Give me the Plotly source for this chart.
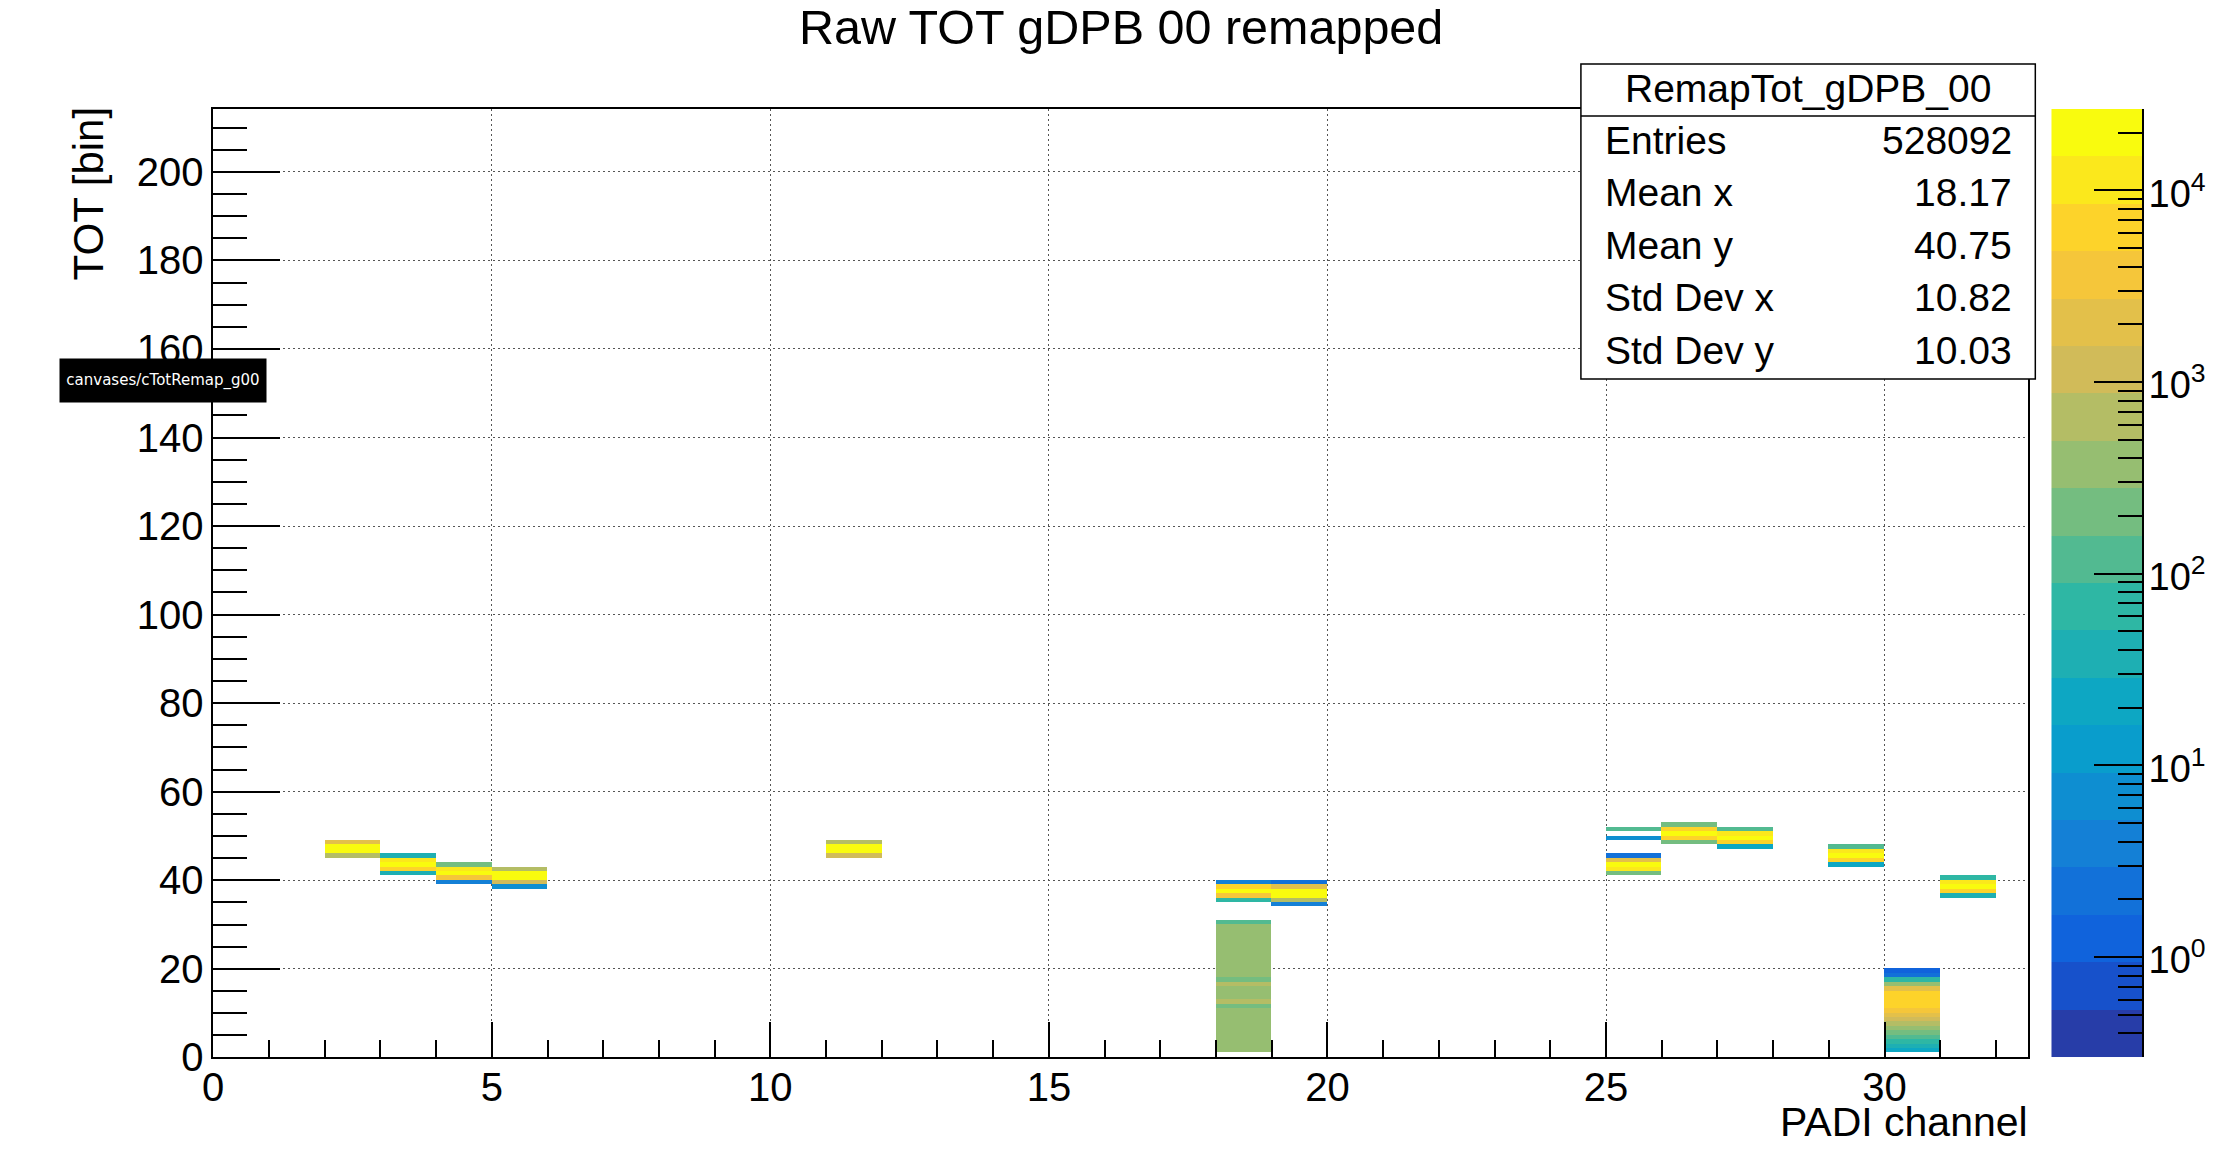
import numpy as np
import plotly.graph_objects as go

# ---------------- data ----------------
# each segment: a PADI channel, the first TOT bin, and the bin contents going up
seg_channel = [2, 3, 4, 5, 11, 18, 18, 19, 25, 25, 26, 27, 29, 30, 31]
seg_tot_start = [45, 41, 39, 38, 45, 1, 35, 34, 41, 49, 48, 47, 43, 1, 36]
seg_counts = [
    [655, 20000, 20000, 2050],
    [38, 6400, 20000, 11300, 38],
    [4, 3600, 20000, 11300, 209],
    [7, 1160, 20000, 20000, 655],
    [1160, 20000, 20000, 655],
    [370, 370, 370, 370, 370, 370, 370, 370, 370, 370, 209, 655, 370, 370, 370,
     655, 209, 370, 370, 370, 370, 370, 370, 370, 370, 370, 370, 370, 370, 118],
    [67, 3600, 20000, 6400, 4],
    [4, 655, 20000, 20000, 2050, 2],
    [209, 11300, 20000, 2050, 2],
    [7, 0, 118],
    [209, 6400, 20000, 6400, 209],
    [21, 6400, 20000, 11300, 118],
    [21, 6400, 20000, 11300, 118],
    [21, 38, 67, 118, 209, 370, 655, 1160, 2050, 3600, 6400, 6400, 6400, 6400,
     2050, 370, 67, 2, 1],
    [38, 6400, 20000, 11300, 67],
]

x_tick_vals = [0, 5, 10, 15, 20, 25, 30]
y_tick_vals = [0, 20, 40, 60, 80, 100, 120, 140, 160, 180, 200]
x_max = 32.58
y_max = 214.2
n_x_bins = 33
n_y_bins = 214

z_log_min = -0.523
z_log_max = 4.424
n_contours = 20
cb_decades = [0, 1, 2, 3, 4]

title_text = "Raw TOT gDPB 00 remapped"
x_title = "PADI channel"
y_title = "TOT [bin]"
stats_title = "RemapTot_gDPB_00"
stat_names = ["Entries", "Mean x", "Mean y", "Std Dev x", "Std Dev y"]
stat_values = ["528092", "18.17", "40.75", "10.82", "10.03"]
tooltip_text = "canvases/cTotRemap_g00"

# ---------------- palette (ROOT kBird) ----------------
bird_stops = [0.0, 0.125, 0.25, 0.375, 0.5, 0.625, 0.75, 0.875, 1.0]
bird_r = [0.2082, 0.0592, 0.0780, 0.0232, 0.1802, 0.5301, 0.8186, 0.9956, 0.9764]
bird_g = [0.1664, 0.3599, 0.5041, 0.6419, 0.7178, 0.7492, 0.7328, 0.7862, 0.9832]
bird_b = [0.5293, 0.8684, 0.8385, 0.7914, 0.6425, 0.4662, 0.3499, 0.1968, 0.0539]


def bird(t):
    r = np.interp(t, bird_stops, bird_r)
    g = np.interp(t, bird_stops, bird_g)
    b = np.interp(t, bird_stops, bird_b)
    return "rgb(%d,%d,%d)" % (round(r * 255), round(g * 255), round(b * 255))


band_colors = []
for i in range(n_contours):
    idx = int((i + 0.99) * 255 / n_contours)
    band_colors.append(bird(idx / 254.0))

colorscale = []
for i, c in enumerate(band_colors):
    colorscale.append([i / n_contours, c])
    colorscale.append([(i + 1) / n_contours, c])

# ---------------- build the histogram ----------------
z = np.full((n_y_bins, n_x_bins), np.nan)
for ch, start, cnts in zip(seg_channel, seg_tot_start, seg_counts):
    for k, c in enumerate(cnts):
        if c > 0:
            z[start + k, ch] = np.log10(c)

x_edges = np.arange(n_x_bins + 1)
y_edges = np.arange(n_y_bins + 1)

# ---------------- geometry (target pixels in the picture) ----------------
W, H = 2235, 1163
OX, SX, SY = 8.0, 0.9964, 0.981   # calibration of page -> picture
plot_l, plot_r, plot_t, plot_b = 210.5, 2028, 109, 1057.3
cb_l, cb_r = 2051, 2142


def px(x):
    return ((x - OX) / SX) / W


def py(y):
    return 1 - (y / SY) / H


FONT = "Liberation Sans, Arial, Helvetica, sans-serif"

fig = go.Figure()
fig.add_trace(go.Heatmap(x=x_edges, y=y_edges, z=z, coloraxis="coloraxis",
                         hoverongaps=False, xaxis="x", yaxis="y"))

band_edges = np.linspace(z_log_min, z_log_max, n_contours + 1)
band_centers = (band_edges[:-1] + band_edges[1:]) / 2
fig.add_trace(go.Heatmap(x=[0, 1], y=band_edges, z=[[v] for v in band_centers],
                         coloraxis="coloraxis", xaxis="x2", yaxis="y2",
                         hoverinfo="skip"))

minor_vals = []
for d in range(-1, 5):
    for m in range(2, 10):
        v = np.log10(m) + d
        if z_log_min - 1e-6 <= v <= z_log_max:
            minor_vals.append(v)

grid_dash = "2px,3px"
fig.update_layout(
    width=W, height=H,
    margin=dict(l=0, r=0, t=0, b=0),
    paper_bgcolor="white", plot_bgcolor="white",
    showlegend=False,
    font=dict(family=FONT, color="black", size=40),
    coloraxis=dict(colorscale=colorscale, cmin=z_log_min, cmax=z_log_max,
                   showscale=False),
    xaxis=dict(domain=[px(plot_l), px(plot_r)], range=[0, x_max],
               anchor="y", tickmode="array", tickvals=x_tick_vals,
               ticks="inside", ticklen=36, tickwidth=1.5, tickcolor="black",
               minor=dict(dtick=1, tick0=0, ticks="inside", ticklen=18,
                          tickwidth=1.5, tickcolor="black", showgrid=False),
               showgrid=True, gridcolor="#555", gridwidth=1, griddash=grid_dash,
               showline=True, linecolor="black", linewidth=1.5, mirror=True,
               zeroline=False, tickfont=dict(size=40, family=FONT),
               ticklabelstandoff=-6),
    yaxis=dict(domain=[py(plot_b), py(plot_t)], range=[0, y_max],
               anchor="x", tickmode="array", tickvals=y_tick_vals,
               ticks="inside", ticklen=67, tickwidth=1.5, tickcolor="black",
               minor=dict(dtick=5, tick0=0, ticks="inside", ticklen=34,
                          tickwidth=1.5, tickcolor="black", showgrid=False),
               showgrid=True, gridcolor="#555", gridwidth=1, griddash=grid_dash,
               showline=True, linecolor="black", linewidth=1.5, mirror=True,
               zeroline=False, tickfont=dict(size=40, family=FONT),
               ticklabelstandoff=0),
    xaxis2=dict(domain=[px(cb_l), px(cb_r)], range=[0, 1], anchor="y2",
                visible=False, fixedrange=True),
    yaxis2=dict(domain=[py(plot_b), py(plot_t)], range=[z_log_min, z_log_max],
                anchor="x2", side="right", tickmode="array", tickvals=cb_decades,
                ticktext=["10<sup>%d</sup>" % d for d in cb_decades],
                ticks="inside", ticklen=48, tickwidth=1.5, tickcolor="black",
                minor=dict(tickmode="array", tickvals=minor_vals, ticks="inside",
                           ticklen=24, tickwidth=1.5, tickcolor="black",
                           showgrid=False),
                showgrid=False, zeroline=False, showline=True, linecolor="black",
                linewidth=1.5, tickfont=dict(size=38, family=FONT),
                ticklabelstandoff=-3, ticklabelshift=3),
)

box_l, box_r, box_t, box_b, box_div = 1580, 2035, 64, 379, 116
shapes = [
    dict(type="rect", xref="paper", yref="paper", x0=px(box_l), x1=px(box_r),
         y0=py(box_b), y1=py(box_t), fillcolor="white",
         line=dict(color="black", width=1.5), layer="above"),
    dict(type="line", xref="paper", yref="paper", x0=px(box_l), x1=px(box_r),
         y0=py(box_div), y1=py(box_div), line=dict(color="black", width=1.5),
         layer="above"),
]
fig.update_layout(shapes=shapes)

ann = []
ann.append(dict(text=title_text, x=px(1119), y=py(27), xref="paper", yref="paper",
                xanchor="center", yanchor="middle", showarrow=False,
                font=dict(size=48.5, family=FONT, color="black")))
ann.append(dict(text=x_title, x=px(2030), y=py(1121.5), xref="paper", yref="paper",
                xanchor="right", yanchor="middle", showarrow=False,
                font=dict(size=41, family=FONT, color="black")))
ann.append(dict(text=y_title, x=px(86), y=py(193.5), xref="paper", yref="paper",
                xanchor="center", yanchor="middle", textangle=-90, showarrow=False,
                font=dict(size=42, family=FONT, color="black")))
ann.append(dict(text=stats_title, x=px((box_l + box_r) / 2), y=py(88),
                xref="paper", yref="paper",
                xanchor="center", yanchor="middle", showarrow=False,
                font=dict(size=39, family=FONT, color="black")))
row_y = [140, 192, 245, 297.5, 350]
for name, val, yy in zip(stat_names, stat_values, row_y):
    ann.append(dict(text=name, x=px(1602), y=py(yy), xref="paper", yref="paper",
                    xanchor="left", yanchor="middle", showarrow=False,
                    font=dict(size=39, family=FONT, color="black")))
    ann.append(dict(text=val, x=px(2014), y=py(yy), xref="paper", yref="paper",
                    xanchor="right", yanchor="middle", showarrow=False,
                    font=dict(size=39, family=FONT, color="black")))
ann.append(dict(text=tooltip_text, x=px(160), y=py(380.5), xref="paper", yref="paper",
                xanchor="center", yanchor="middle", showarrow=False,
                bgcolor="black", width=206, height=43, borderpad=0,
                font=dict(size=15, family="DejaVu Sans, sans-serif", color="white")))
fig.update_layout(annotations=ann)

fig.write_html("out.html", config={"displayModeBar": False},
               post_script="document.body.style.margin='0px';document.body.style.overflow='hidden';")
